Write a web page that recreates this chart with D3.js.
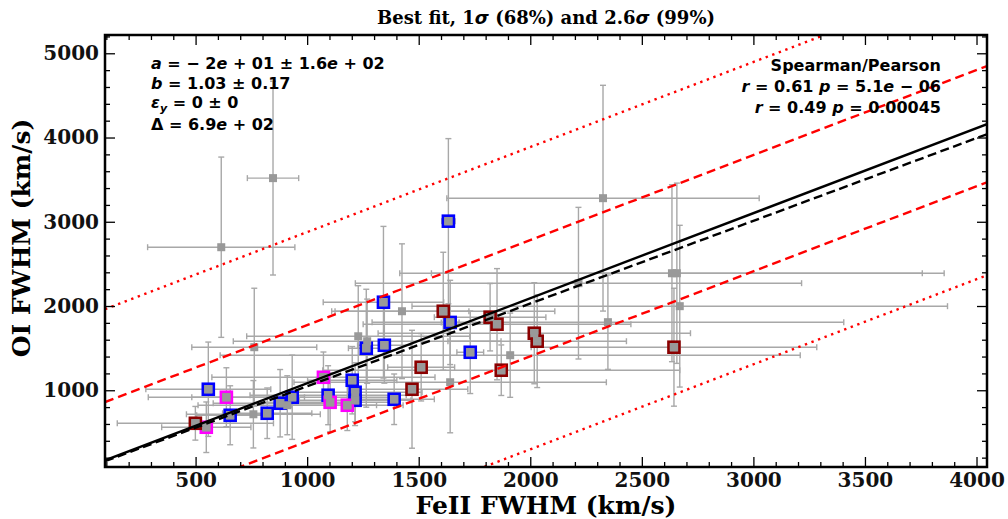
<!DOCTYPE html>
<html><head><meta charset="utf-8">
<script src="https://cdn.jsdelivr.net/npm/d3@7"></script>
<style>body{margin:0;background:#fff}svg{display:block}</style>
</head><body><svg id="c" width="1008" height="519"></svg>
<script>
// ---- data ----
const groups = ["blue","blue","blue","blue","blue","blue","blue","blue","blue","blue","blue","blue","blue","blue","blue","blue",
  "magenta","magenta","magenta","magenta","magenta",
  "darkred","darkred","darkred","darkred","darkred","darkred","darkred","darkred","darkred","darkred",
  "gray","gray","gray","gray","gray","gray","gray","gray","gray","gray","gray","gray","gray","gray","gray","gray"];
const feFWHM = [1633,1342,1641,1731,1265,1346,1202,1215,1215,1094,1390, 557, 655, 821, 879, 933,
  638, 548,1073,1103,1180,
  499,1610,1820,1851,1511,1470,1870,2018,2031,2644,
  847, 615,2326,2216,2635,2657,2670,2348,1425, 763,1229,1269,1641,1910, 759, 911];
const oiFWHM = [3007,2045,1805,1451,1499,1534,1119, 976, 881, 941, 893,1012, 703, 727, 846, 917,
  917, 561,1154, 857, 822,
  608,1938,1867,1784,1273,1012,1238,1677,1582,1511,
  3518,2698,3280,2271,2389,2389,1998,1808,1938,1511,1641,1582,1095,1416, 715, 822];
const feErr = [  30, 270,  40,  60,  80, 120, 200, 300, 250, 350, 180, 280, 150, 200, 300, 450,
  350, 200, 500, 300, 250,
  350, 500, 250, 600, 150, 250, 800, 700, 400, 640,
  115, 330, 700,1000,1220,1100,1200,1057, 300, 280, 500, 600, 700,1300, 300, 400];
const oiErr = [ 980, 900, 500, 490, 700, 450, 400, 350, 300, 350, 300, 560, 350, 300, 400, 500,
  350, 300, 300, 350, 300,
  200, 700, 400, 660, 400, 700, 300, 600, 550, 700,
 1150,1070,1340, 900,1050,1070, 960, 560, 800, 700, 600, 500, 600, 500, 400, 350];
const edgeColors = {blue:"#0000ff", magenta:"#ff00ff", darkred:"#8b0000"};

// fit lines (intercept, slope) and scatter
const fitSolid = [74, 1.0094];
const fitDashed = [65, 0.982];
const scatterDelta = 690;
const sigmaLevels = [1, 2.6];

const xDomain = [94, 4047], yDomain = [89, 5217];
const xTicks = [500,1000,1500,2000,2500,3000,3500,4000];
const yTicks = [1000,2000,3000,4000,5000];

const titleText = "Best fit, 1σ (68%) and 2.6σ (99%)";
const xLabel = "FeII FWHM (km/s)", yLabel = "OI FWHM (km/s)";

// ---- layout ----
const L=105, R=987, T=35, B=467;
const svg = d3.select("#c");
const x = d3.scaleLinear().domain(xDomain).range([L,R]);
const y = d3.scaleLinear().domain(yDomain).range([B,T]);

svg.append("clipPath").attr("id","clip").append("rect").attr("x",L).attr("y",T).attr("width",R-L).attr("height",B-T);
const plot = svg.append("g").attr("clip-path","url(#clip)");

const pts = feFWHM.map((v,i)=>({x:v,y:oiFWHM[i],xe:feErr[i],ye:oiErr[i],g:groups[i]}));
const eb = plot.append("g").attr("stroke","#a8a8a8").attr("stroke-width",1.4).attr("fill","none");
const cap=3;
pts.forEach(p=>{
  const px=x(p.x), py=y(p.y);
  const x0=x(p.x-p.xe), x1=x(p.x+p.xe), y0=y(p.y-p.ye), y1=y(p.y+p.ye);
  eb.append("line").attr("x1",x0).attr("x2",x1).attr("y1",py).attr("y2",py);
  eb.append("line").attr("x1",px).attr("x2",px).attr("y1",y0).attr("y2",y1);
  [x0,x1].forEach(xx=>eb.append("line").attr("x1",xx).attr("x2",xx).attr("y1",py-cap).attr("y2",py+cap));
  [y0,y1].forEach(yy=>eb.append("line").attr("y1",yy).attr("y2",yy).attr("x1",px-cap).attr("x2",px+cap));
});
plot.append("g").selectAll("rect").data(pts.filter(p=>p.g!=="gray")).join("rect")
  .attr("x",p=>x(p.x)-5.5).attr("y",p=>y(p.y)-5.5).attr("width",11).attr("height",11)
  .attr("fill","#999").attr("stroke",p=>edgeColors[p.g]).attr("stroke-width",2.6);
plot.append("g").selectAll("rect").data(pts).join("rect")
  .attr("x",p=>x(p.x)-4).attr("y",p=>y(p.y)-4).attr("width",8).attr("height",8).attr("fill","#999");

// lines
function line(a,b){ return plot.append("line").attr("x1",x(xDomain[0])).attr("y1",y(a+b*xDomain[0]))
  .attr("x2",x(xDomain[1])).attr("y2",y(a+b*xDomain[1])).attr("stroke-width",2.4).attr("fill","none"); }
sigmaLevels.forEach((s,i)=>{
  [1,-1].forEach(sg=>{
    line(fitSolid[0]+sg*s*scatterDelta, fitSolid[1]).attr("stroke","#ff0000")
      .attr("stroke-dasharray", i===0 ? "9,5" : "2.4,4.6");
  });
});
line(fitDashed[0],fitDashed[1]).attr("stroke","#000").attr("stroke-dasharray","9,4.5");
line(fitSolid[0],fitSolid[1]).attr("stroke","#000");

// axes
const serif = "'DejaVu Serif', serif";
function ax(gen, tr, size, vals, labels){
  const g = svg.append("g").attr("transform",tr).call(gen.tickValues(vals).tickSize(size).tickSizeOuter(0)
     .tickFormat(labels?d3.format("d"):""));
  g.select(".domain").remove();
  g.selectAll("line").attr("stroke","#000").attr("stroke-width",1.3);
  g.selectAll("text").attr("font-family",serif).attr("font-weight","bold").attr("font-size",20).attr("fill","#111");
  return g;
}
const xMinor = d3.range(100,4047,100).filter(v=>v%500), yMinor = d3.range(200,5217,200).filter(v=>v%1000);
const gb = ax(d3.axisBottom(x), `translate(0,${B})`, -10, xTicks, true);
gb.selectAll("text").attr("y",6).attr("dy","0.71em");
ax(d3.axisBottom(x), `translate(0,${B})`, -5, xMinor, false);
ax(d3.axisTop(x), `translate(0,${T})`, -10, xTicks, false);
ax(d3.axisTop(x), `translate(0,${T})`, -5, xMinor, false);
const gl = ax(d3.axisLeft(y), `translate(${L},0)`, -10, yTicks, true);
gl.selectAll("text").attr("x",-6);
ax(d3.axisLeft(y), `translate(${L},0)`, -5, yMinor, false);
ax(d3.axisRight(y), `translate(${R},0)`, -10, yTicks, false);
ax(d3.axisRight(y), `translate(${R},0)`, -5, yMinor, false);

svg.append("rect").attr("x",L).attr("y",T).attr("width",R-L).attr("height",B-T)
  .attr("fill","none").attr("stroke","#000").attr("stroke-width",2.5);

// labels
svg.append("text").attr("x",(L+R)/2).attr("y",514).attr("text-anchor","middle")
  .attr("font-family",serif).attr("font-weight","bold").attr("font-size",25).text(xLabel);
svg.append("text").attr("transform",`translate(30,238) rotate(-90)`).attr("text-anchor","middle")
  .attr("font-family",serif).attr("font-weight","bold").attr("font-size",25).text(yLabel);

const tt = svg.append("text").attr("x",(L+R)/2).attr("y",24).attr("text-anchor","middle")
  .attr("font-family",serif).attr("font-weight","bold").attr("font-size",18);
titleText.split("σ").forEach((s,i,arr)=>{
  tt.append("tspan").text(s);
  if(i<arr.length-1) tt.append("tspan").attr("font-family","'DejaVu Sans'").attr("font-style","italic").text("σ");
});

// math annotations
const sans = "'DejaVu Sans', sans-serif";
function mathText(xp, yp, parts, anchor){
  const t = svg.append("text").attr("x",xp).attr("y",yp).attr("font-family",sans).attr("font-weight","bold")
    .attr("font-size",16).attr("text-anchor",anchor||"start").attr("fill","#000");
  parts.forEach(p=>{
    const s = t.append("tspan").text(p[0]);
    if(p[1]==="i") s.attr("font-style","italic");
    if(p[1]==="sub") s.attr("font-style","italic").attr("font-size",11).attr("dy",4);
    if(p[2]) s.attr("dy",p[2]);
  });
  return t;
}
const fitB = ["1.03","0.17"], epsY=["0","0"], deltaTxt=["6.9","02"];
mathText(151,69,[["a","i"],[" = − 2"],["e","i"],[" + 01 ± 1.6"],["e","i"],[" + 02"]]);
mathText(151,89,[["b","i"],[" = "+fitB[0]+" ± "+fitB[1]]]);
mathText(151,108,[["ε","i"],["y","sub"],[" = "+epsY[0]+" ± "+epsY[1],null,-4]]);
mathText(151,130,[["Δ = "+deltaTxt[0]],["e","i"],[" + "+deltaTxt[1]]]);

const corr = [["0.61","5.1","− 06"],["0.49","0.00045"]];
mathText(941,71,[["Spearman/Pearson"]],"end");
mathText(941,92,[["r","i"],[" = "+corr[0][0]+" "],["p","i"],[" = "+corr[0][1]],["e","i"],[" "+corr[0][2]]],"end");
mathText(941,113,[["r","i"],[" = "+corr[1][0]+" "],["p","i"],[" = "+corr[1][1]]],"end");
</script></body></html>
